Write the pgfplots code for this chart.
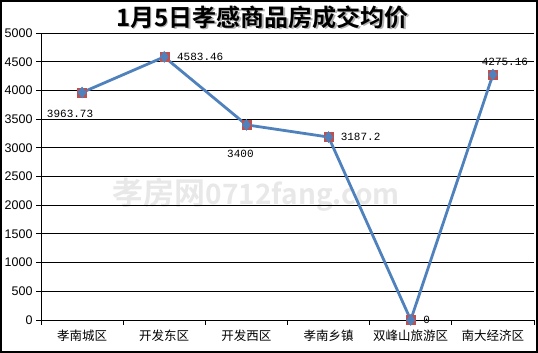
\documentclass[border=0pt]{standalone}
\usepackage{fontspec}
\usepackage{pgfplots}
\usepackage{pgfplotstable}
\pgfplotsset{compat=1.18}
\setmainfont{Liberation Sans}
\newfontfamily\cjk{Noto Sans CJK SC}
\newfontfamily\cjkb{Noto Sans CJK SC Bold}
\newfontfamily\mono{Liberation Mono}
\definecolor{lineblue}{HTML}{4F81BD}
\definecolor{sqred}{HTML}{C0504D}
\pgfplotstableread{
x y dx dy lab
0.5 3963.73 -12 -21 3963.73
1.5 4583.46 36 0 4583.46
2.5 3400 -6 -29 3400
3.5 3187.2 32 0 3187.2
4.5 0 16 0 0
5.5 4275.16 12 13 4275.16
}\datatab
\begin{document}
\begin{tikzpicture}
\begin{axis}[
  set layers,
  at={(0,0)}, anchor=south west,
  scale only axis, width=493pt, height=287pt,
  xmin=0, xmax=6, ymin=0, ymax=5000,
  axis x line=bottom, axis y line=left,
  axis line style={-, black, line width=0.8pt},
  xtick={0,1,...,6}, xticklabels={},
  extra x ticks={0.5,1.5,2.5,3.5,4.5,5.5},
  extra x tick labels={孝南城区,开发东区,开发西区,孝南乡镇,双峰山旅游区,南大经济区},
  extra x tick style={major tick length=0pt, grid=none, tick label style={font=\cjk\fontsize{12.5}{14}\selectfont, yshift=-6pt}},
  ytick={0,500,...,5000},
  tick align=outside, major tick length=5pt,
  tick style={black, line width=0.8pt},
  ymajorgrids, grid style={black, line width=0.8pt},
  y tick label style={font=\fontsize{12.5}{14}\selectfont},
  /pgf/number format/assume math mode=true,
  scaled y ticks=false,
  yticklabel={\pgfmathprintnumber[fixed,precision=0,set thousands separator={}]{\tick}},
  clip=false,
]
\begin{pgfonlayer}{axis background}
\node[text=gray!18, font=\cjkb\fontsize{31}{31}\selectfont] at (axis cs:2.62,2178) {孝房网\fontsize{28}{28}\selectfont 0712fang.com};
\end{pgfonlayer}
\addplot[only marks, mark=square*, mark size=4.5pt, mark options={fill=sqred, draw=sqred}] table[x=x,y=y] {\datatab};
\addplot[lineblue, line width=2.8pt, mark=diamond*, mark size=5.5pt, mark options={fill=lineblue, draw=lineblue, line width=0.5pt},
  point meta=explicit symbolic,
  nodes near coords,
  visualization depends on={\thisrow{dx}\as\dx},
  visualization depends on={\thisrow{dy}\as\dy},
  every node near coord/.append style={anchor=center, xshift=\dx pt, yshift=\dy pt, font=\mono\fontsize{11}{12}\selectfont, text=black, inner sep=0pt},
] table[x=x,y=y,meta=lab] {\datatab};
\node[anchor=base, text=gray!60, font=\cjkb\fontsize{24}{24}\selectfont] at ([xshift=1.5pt,yshift=5.5pt]rel axis cs:0.449,1) {1月5日孝感商品房成交均价};
\node[anchor=base, text=black, font=\cjkb\fontsize{24}{24}\selectfont] at ([yshift=7pt]rel axis cs:0.449,1) {1月5日孝感商品房成交均价};
\end{axis}
\draw[line width=2pt] (-40pt,-32pt) rectangle (496pt,319pt);
\pgfresetboundingbox
\path (-41pt,-33pt) rectangle (497pt,320pt);
\end{tikzpicture}
\end{document}
